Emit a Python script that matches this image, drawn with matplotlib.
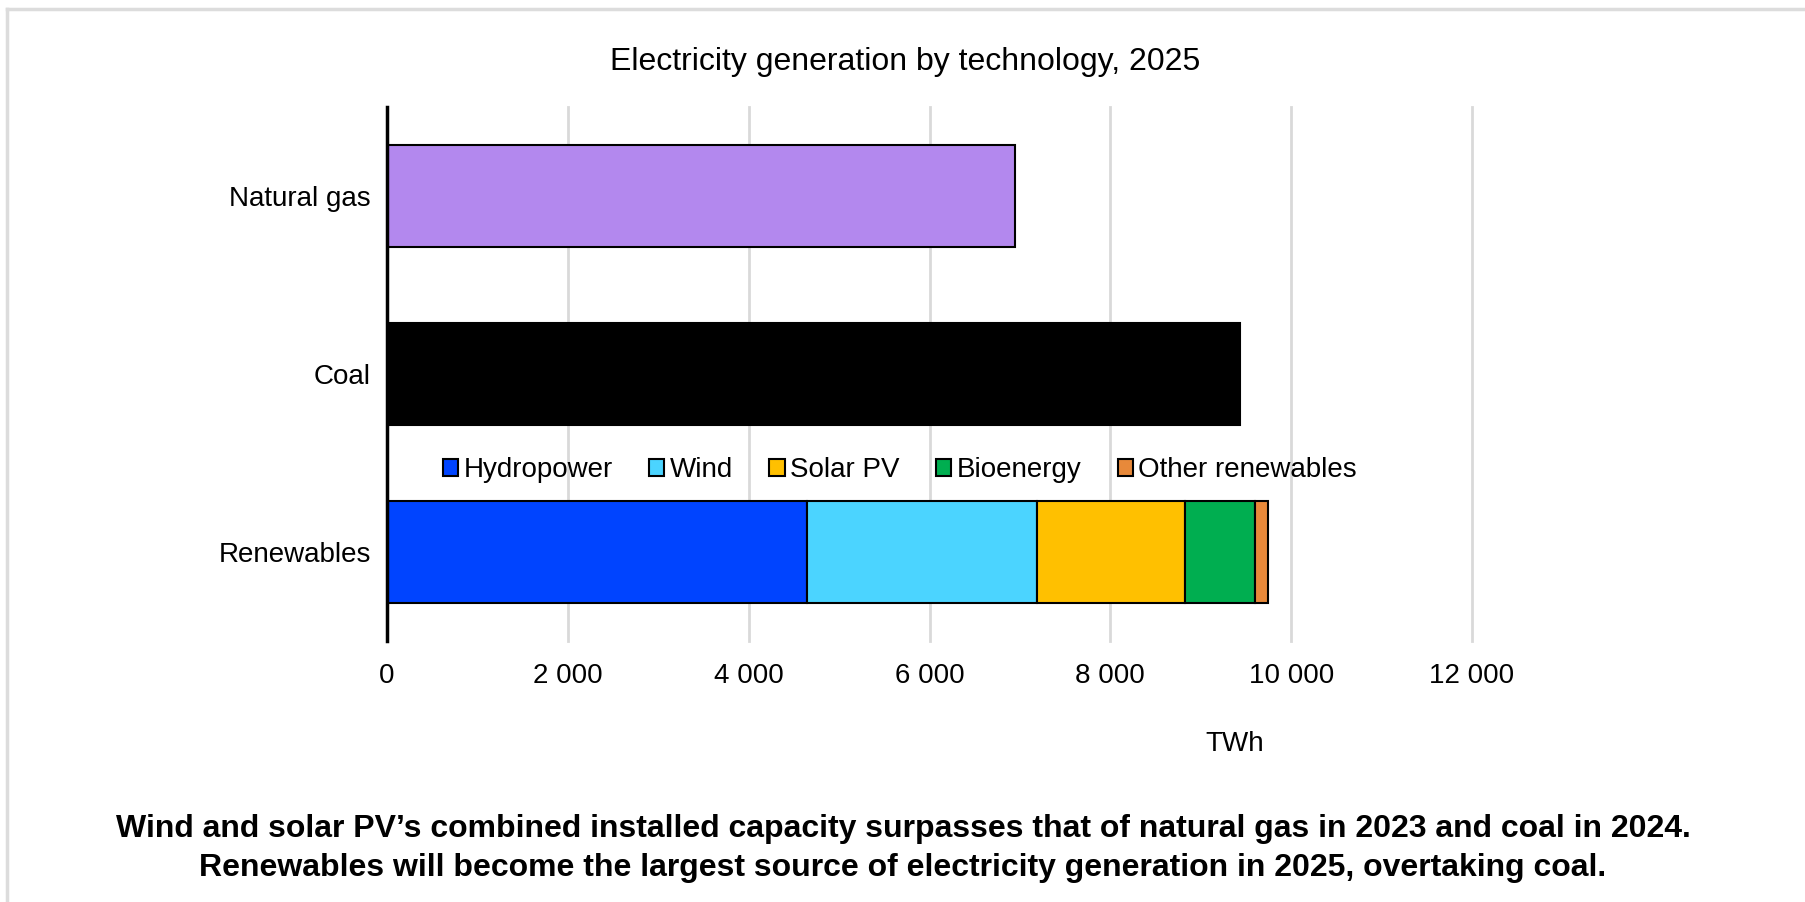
import matplotlib
matplotlib.use("Agg")
import matplotlib.pyplot as plt
from matplotlib.patches import Rectangle
from matplotlib.lines import Line2D
from matplotlib.ticker import FuncFormatter

plt.rcParams['font.family'] = ['Liberation Sans', 'DejaVu Sans']

# Electricity generation by technology, 2025 (TWh)
rows = ["Renewables", "Coal", "Natural gas"]
gas_twh = 6950
coal_twh = 9430
renew_parts = ["Hydropower", "Wind", "Solar PV", "Bioenergy", "Other renewables"]
renew_twh = [4640, 2550, 1640, 775, 140]
renew_colors = ["#0044FF", "#4BD4FF", "#FFC000", "#00AE50", "#E8893A"]

W, H = 1805, 902
fig = plt.figure(figsize=(W / 100, H / 100), dpi=100)
ax = fig.add_axes([387 / W, 1 - 641 / H, (1472 - 387) / W, (641 - 107) / H])

bar_h = 0.57
ax.barh(2, gas_twh, height=bar_h, color="#B388EE", edgecolor="black", linewidth=1.5, zorder=3)
ax.barh(1, coal_twh, height=bar_h, color="black", edgecolor="black", linewidth=1.5, zorder=3)
left = 0
for name, val, col in zip(renew_parts, renew_twh, renew_colors):
    ax.barh(0, val, left=left, height=bar_h, color=col, edgecolor="black", linewidth=1.5, zorder=3)
    left += val

ax.set_xlim(0, 12000)
ax.set_ylim(-0.5, 2.5)
ax.set_xticks(range(0, 12001, 2000))
ax.xaxis.set_major_formatter(FuncFormatter(lambda v, p: f"{int(v):,}".replace(",", " ")))
ax.set_yticks([0, 1, 2])
ax.set_yticklabels(rows)
ax.tick_params(axis="x", length=0, pad=16, labelsize=20)
ax.tick_params(axis="y", length=0, pad=11.5, labelsize=20)
ax.grid(axis="x", color="#d9d9d9", linewidth=2, zorder=0)
for gl in ax.get_xgridlines():
    gl.set_clip_on(False)
for s in ["top", "right", "bottom"]:
    ax.spines[s].set_visible(False)
ax.spines["left"].set_linewidth(2.5)
ax.spines["left"].set_zorder(4)

handles = [Rectangle((0, 0), 1, 1, facecolor=c, edgecolor="black", linewidth=1.5) for c in renew_colors]
fig.legend(handles, renew_parts, loc="center left", bbox_to_anchor=(443 / W, 1 - 470 / H),
           ncol=5, frameon=False, fontsize=20, handlelength=0.55, handleheight=0.55,
           handletextpad=0.2, columnspacing=1.3, borderpad=0, borderaxespad=0)

fig.text(905 / W, 1 - 62 / H, "Electricity generation by technology, 2025",
         ha="center", va="center", fontsize=23)
fig.text(1235 / W, 1 - 744 / H, "TWh", ha="center", va="center", fontsize=20)
fig.text(903 / W, 1 - 829 / H,
         "Wind and solar PV\u2019s combined installed capacity surpasses that of natural gas in 2023 and coal in 2024.",
         ha="center", va="center", fontsize=23, fontweight="bold")
fig.text(903 / W, 1 - 868 / H,
         "Renewables will become the largest source of electricity generation in 2025, overtaking coal.",
         ha="center", va="center", fontsize=23, fontweight="bold")

# thin grey frame along the top and left edges
fig.add_artist(Line2D([7 / W, 1], [1 - 9 / H, 1 - 9 / H], transform=fig.transFigure,
                      color="#dcdcdc", linewidth=2.5))
fig.add_artist(Line2D([7 / W, 7 / W], [0, 1 - 9 / H], transform=fig.transFigure,
                      color="#dcdcdc", linewidth=2.5))

fig.savefig("out.png", dpi=100, facecolor="white")
